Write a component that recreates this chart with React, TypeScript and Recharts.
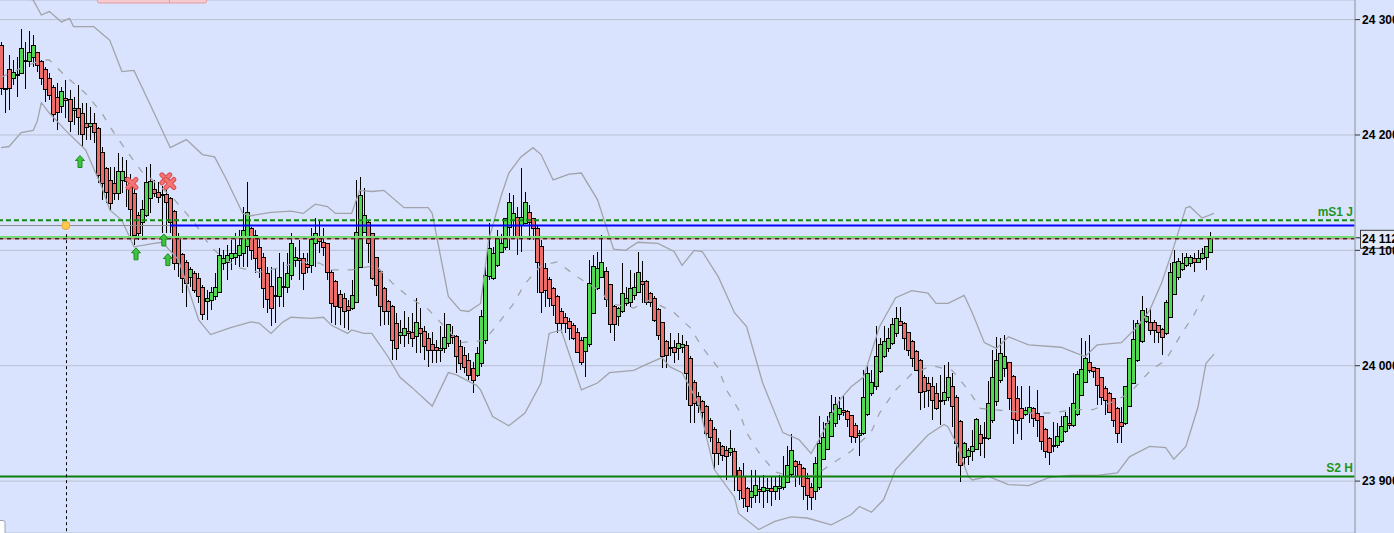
import React from 'react';
import {
  ComposedChart,
  Bar,
  Line,
  XAxis,
  YAxis,
  CartesianGrid,
  ReferenceLine,
  ReferenceDot,
  Customized,
} from 'recharts';

// ---- candles: [open, high, low, close] (index points) ----
const candles: number[][] = [
  [24278,24281,24235,24241],[24241,24241,24219,24240],[24257,24269,24222,24241],[24249,24265,24243,24255],
  [24252,24268,24233,24253],[24254,24292,24254,24275],[24265,24281,24240,24264],[24264,24290,24259,24272],
  [24268,24287,24259,24278],[24272,24272,24255,24261],[24264,24265,24243,24249],[24257,24259,24229,24240],
  [24249,24254,24230,24235],[24242,24243,24211,24218],[24233,24245,24204,24220],[24225,24242,24219,24238],
  [24232,24248,24215,24230],[24231,24239,24203,24212],[24222,24233,24209,24223],[24223,24243,24200,24216],
  [24219,24228,24190,24201],[24210,24228,24196,24207],[24208,24224,24196,24210],[24210,24219,24193,24203],
  [24206,24207,24158,24165],[24185,24190,24144,24158],[24171,24172,24141,24151],[24161,24172,24135,24141],
  [24158,24172,24144,24150],[24150,24184,24144,24169],[24161,24181,24150,24169],[24164,24178,24138,24160],
  [24159,24166,24109,24136],[24150,24155,24105,24113],[24131,24133,24109,24115],[24125,24144,24109,24136],
  [24131,24172,24129,24159],[24145,24175,24132,24160],[24153,24161,24146,24150],[24151,24159,24141,24146],
  [24149,24156,24115,24148],[24149,24155,24115,24142],[24145,24146,24115,24125],[24134,24135,24083,24089],
  [24112,24115,24077,24089],[24097,24098,24063,24076],[24090,24092,24051,24072],[24077,24086,24068,24084],
  [24080,24082,24063,24066],[24076,24080,24054,24060],[24068,24070,24040,24045],[24056,24066,24040,24059],
  [24057,24068,24048,24064],[24060,24080,24057,24068],[24064,24102,24063,24096],[24089,24100,24083,24093],
  [24090,24105,24074,24096],[24093,24109,24083,24098],[24094,24115,24087,24098],[24096,24118,24086,24105],
  [24098,24138,24086,24118],[24104,24159,24086,24133],[24119,24120,24092,24100],[24113,24118,24080,24093],
  [24103,24112,24076,24085],[24094,24098,24050,24067],[24080,24086,24046,24058],[24069,24086,24034,24050],
  [24060,24085,24037,24061],[24060,24098,24051,24077],[24068,24090,24051,24069],[24068,24098,24063,24080],
  [24079,24115,24074,24106],[24092,24103,24086,24094],[24093,24109,24074,24092],[24093,24098,24066,24080],
  [24088,24098,24080,24086],[24087,24119,24080,24110],[24106,24128,24086,24115],[24112,24126,24098,24108],
  [24107,24119,24095,24103],[24106,24106,24074,24081],[24081,24083,24037,24054],[24073,24074,24035,24052],
  [24062,24066,24035,24051],[24059,24063,24033,24047],[24052,24057,24031,24048],[24050,24074,24048,24061],
  [24055,24161,24054,24116],[24086,24164,24085,24148],[24116,24154,24116,24131],[24125,24126,24089,24106],
  [24115,24115,24074,24076],[24094,24094,24060,24070],[24082,24083,24034,24052],[24067,24068,24035,24047],
  [24056,24057,24035,24047],[24052,24053,24005,24022],[24037,24046,24005,24015],[24027,24040,24019,24029],
  [24027,24047,24016,24033],[24030,24042,24019,24028],[24029,24046,24016,24024],[24026,24059,24011,24038],
  [24033,24050,24011,24028],[24030,24034,24005,24017],[24024,24028,23999,24014],[24019,24029,24002,24014],
  [24016,24022,24002,24014],[24014,24034,24003,24015],[24015,24046,24011,24025],[24020,24036,24016,24036],
  [24027,24034,24019,24025],[24026,24027,23994,24008],[24017,24022,23996,24002],[24009,24016,23994,23999],
  [24005,24011,23988,23992],[23998,24003,23976,23988],[23992,24016,23990,24011],[24002,24048,23999,24043],
  [24022,24086,24019,24079],[24078,24124,24074,24102],[24076,24103,24074,24098],[24087,24118,24086,24112],
  [24099,24114,24099,24106],[24103,24128,24100,24128],[24120,24150,24100,24142],[24126,24148,24111,24132],
  [24129,24138,24096,24112],[24122,24171,24099,24129],[24124,24151,24124,24142],[24133,24139,24109,24125],
  [24128,24128,24109,24119],[24119,24121,24063,24090],[24104,24109,24046,24064],[24085,24089,24051,24066],
  [24075,24077,24051,24059],[24067,24068,24043,24053],[24060,24061,24028,24037],[24047,24050,24028,24037],
  [24042,24046,24028,24037],[24039,24041,24022,24033],[24035,24037,24022,24024],[24029,24033,24011,24012],
  [24022,24025,24001,24003],[24013,24025,23990,24025],[24019,24092,24016,24072],[24046,24096,24046,24086],
  [24067,24099,24066,24085],[24077,24113,24076,24090],[24082,24086,24051,24058],[24071,24071,24028,24036],
  [24052,24053,24021,24036],[24043,24051,24034,24050],[24047,24089,24046,24063],[24054,24068,24052,24059],
  [24055,24083,24051,24067],[24061,24080,24057,24068],[24064,24099,24063,24081],[24073,24091,24054,24071],
  [24073,24074,24053,24055],[24063,24064,24051,24055],[24059,24060,24038,24040],[24049,24050,24022,24027],
  [24038,24038,23998,24008],[24021,24022,23998,24009],[24016,24028,24008,24015],[24016,24022,24002,24012],
  [24015,24028,24005,24020],[24016,24027,24011,24019],[24018,24021,23970,23994],[24007,24008,23950,23966],
  [23986,23988,23950,23968],[23974,23977,23959,23966],[23969,23970,23951,23960],[23965,23966,23938,23942],
  [23953,23955,23934,23938],[23945,23947,23910,23924],[23934,23937,23914,23924],[23930,23931,23917,23923],
  [23927,23930,23901,23922],[23925,23944,23922,23929],[23926,23929,23891,23904],[23910,23912,23884,23892],
  [23904,23916,23877,23885],[23894,23895,23873,23878],[23886,23910,23877,23891],[23888,23910,23881,23897],
  [23893,23904,23881,23891],[23891,23905,23877,23895],[23892,23903,23881,23894],[23894,23904,23878,23891],
  [23891,23904,23884,23896],[23894,23905,23884,23896],[23895,23922,23892,23904],[23899,23930,23898,23914],
  [23906,23941,23904,23927],[23917,23918,23895,23913],[23915,23917,23897,23904],[23911,23912,23884,23896],
  [23903,23907,23875,23888],[23895,23898,23875,23886],[23891,23921,23884,23916],[23895,23956,23892,23933],
  [23919,23951,23918,23938],[23928,23956,23927,23950],[23939,23975,23938,23960],[23950,23973,23947,23967],
  [23958,23973,23953,23963],[23962,23975,23956,23960],[23961,23962,23947,23954],[23957,23957,23933,23939],
  [23949,23950,23933,23938],[23940,23944,23922,23942],[23942,23996,23940,23973],[23958,24000,23956,23994],
  [23976,23996,23974,23986],[23982,24034,23979,24008],[23995,24024,23994,24019],[24008,24034,24007,24021],
  [24015,24033,24012,24024],[24020,24041,24018,24036],[24028,24051,24025,24041],[24039,24051,24034,24035],
  [24037,24038,24014,24024],[24029,24029,24008,24014],[24021,24022,23999,24007],[24013,24014,23995,23996],
  [24005,24006,23962,23977],[23990,23992,23963,23978],[23985,23990,23964,23979],[23982,23990,23953,23970],
  [23976,23985,23962,23963],[23969,23992,23949,23970],[23970,24001,23966,23977],[23973,24003,23969,23990],
  [23982,23994,23947,23965],[23973,23975,23916,23933],[23952,23953,23899,23914],[23921,23934,23912,23933],
  [23922,23929,23914,23927],[23926,23944,23917,23930],[23928,23955,23927,23954],[23941,23949,23922,23933],
  [23937,23951,23920,23938],[23937,23987,23936,23968],[23953,24014,23950,23990],[23969,24025,23965,24005],
  [23988,24024,23985,24011],[23998,24027,23990,24008],[24003,24003,23962,23972],[23991,23992,23932,23954],
  [23972,23982,23941,23953],[23963,23982,23936,23955],[23958,23964,23956,23962],[23960,23982,23950,23964],
  [23963,23964,23947,23955],[23959,23979,23938,23953],[23956,23956,23927,23935],[23945,23946,23920,23926],
  [23937,23938,23914,23925],[23931,23951,23925,23930],[23931,23950,23929,23939],[23935,23956,23933,23948],
  [23943,23960,23942,23956],[23950,23964,23945,23949],[23949,23994,23947,23968],[23958,23995,23956,23993],
  [23975,24024,23975,23997],[23986,24021,23985,24007],[24003,24027,23994,23996],[23999,23999,23989,23995],
  [23998,23998,23966,23983],[23990,23990,23966,23973],[23981,23982,23957,23970],[23976,23977,23959,23960],
  [23972,23972,23947,23953],[23963,23964,23933,23942],[23951,23964,23933,23948],[23950,23982,23949,23982],
  [23965,24007,23964,24007],[23985,24040,23985,24023],[24005,24040,24003,24037],[24021,24060,24020,24048],
  [24039,24050,24037,24043],[24038,24050,24027,24031],[24038,24040,24020,24031],[24035,24035,24020,24029],
  [24032,24033,24009,24025],[24028,24057,24027,24055],[24042,24089,24041,24081],[24062,24100,24061,24090],
  [24077,24093,24074,24091],[24084,24098,24082,24089],[24087,24098,24086,24094],[24089,24096,24086,24094],
  [24093,24098,24081,24090],[24090,24100,24089,24093],[24093,24102,24092,24098],[24094,24104,24083,24104],
  [24099,24116,24099,24112],
];

// ---- Bollinger bands, read at sample candle indices: [index, value] ----
const upperBand: number[][] = [
  [0,24324],[8,24317],[10,24304],[12,24307],[15,24298],[17,24301],[18,24294],[23,24294],[25,24288],[27,24282],
  [30,24255],[33,24256],[38,24219],[42,24189],[46,24196],[50,24183],[53,24181],[56,24161],[60,24132],[62,24130],
  [67,24133],[72,24134],[75,24132],[78,24140],[81,24138],[83,24132],[87,24132],[89,24152],[92,24151],[95,24152],
  [100,24137],[106,24137],[107,24132],[111,24060],[114,24048],[116,24047],[119,24054],[121,24109],[124,24146],
  [126,24167],[129,24181],[132,24189],[134,24183],[137,24161],[141,24166],[144,24167],[148,24144],[152,24101],
  [155,24100],[158,24107],[163,24106],[167,24099],[169,24087],[172,24100],[174,24099],[178,24077],[182,24046],
  [185,24034],[189,23985],[194,23942],[198,23936],[201,23924],[203,23936],[208,23970],[211,23982],[214,23990],
  [218,24034],[222,24059],[226,24065],[230,24063],[232,24054],[235,24054],[239,24061],[241,24046],[244,24020],
  [247,24015],[250,24025],[255,24018],[263,24016],[266,24012],[269,24008],[272,24018],[278,24020],[282,24034],
  [285,24048],[288,24072],[291,24103],[294,24137],[295,24138],[298,24128],[301,24132],
];
const middleBand: number[][] = [
  [0,24250],[5,24258],[10,24265],[12,24265],[16,24251],[21,24236],[25,24219],[28,24202],[31,24187],[35,24168],
  [39,24157],[43,24144],[48,24124],[52,24103],[55,24094],[59,24085],[64,24081],[69,24085],[74,24090],[79,24089],
  [82,24083],[87,24083],[93,24087],[97,24072],[101,24060],[106,24049],[110,24034],[114,24020],[120,24022],
  [123,24035],[127,24053],[130,24071],[134,24087],[138,24090],[143,24077],[149,24064],[151,24054],[157,24050],
  [161,24057],[167,24046],[171,24033],[174,24016],[178,23998],[180,23979],[183,23962],[185,23942],[188,23925],
  [192,23908],[197,23903],[202,23905],[207,23917],[211,23926],[216,23943],[218,23959],[222,23979],[226,23993],
  [231,24000],[236,23996],[240,23979],[243,23963],[249,23961],[255,23959],[261,23959],[266,23962],[271,23962],
  [276,23969],[280,23976],[285,23995],[289,24005],[293,24028],[296,24044],[299,24064],
];
const lowerBand: number[][] = [
  [0,24189],[2,24190],[5,24202],[8,24204],[9,24212],[10,24228],[12,24219],[16,24204],[21,24187],[25,24155],
  [27,24135],[30,24126],[33,24103],[38,24106],[40,24107],[44,24092],[46,24072],[49,24040],[52,24027],[57,24033],
  [62,24038],[64,24037],[67,24028],[70,24038],[72,24042],[77,24041],[80,24042],[82,24035],[86,24028],[87,24031],
  [90,24028],[92,24028],[96,24008],[99,23990],[102,23981],[107,23965],[111,23994],[113,23992],[118,23983],
  [119,23979],[122,23956],[126,23948],[130,23959],[134,23985],[136,24028],[139,24031],[144,23979],[148,23985],
  [151,23994],[157,23996],[160,24001],[164,24007],[166,23999],[169,23994],[173,23968],[177,23910],[182,23886],
  [183,23872],[188,23858],[192,23865],[196,23869],[200,23868],[206,23862],[211,23871],[213,23878],[216,23873],
  [219,23884],[222,23910],[226,23925],[230,23940],[234,23949],[235,23947],[237,23933],[240,23904],[241,23901],
  [245,23904],[250,23897],[255,23896],[260,23903],[265,23905],[272,23905],[277,23907],[280,23921],[285,23930],
  [289,23929],[291,23919],[294,23930],[297,23964],[299,24002],[301,24010],
];

// ---- levels and signals ----
const yTicks = [23900, 24000, 24100, 24200, 24300];
const levelMS1J = 24126;
const levelBlue = 24121.5;
const blueStartIndex = 41.9;
const levelLastGreen = 24111.5;
const levelLast = 24110;
const levelS2H = 23904;
const markerIndex = 16.1;
const markerLineTop = 24114;
const buyArrows: number[][] = [[19.6, 24177], [33.5, 24097], [40.4, 24109], [41.4, 24092]];
const sellCrosses: number[][] = [[32.5, 24158], [40.9, 24162], [41.9, 24158]];

const X_DOMAIN: [number, number] = [-0.25, 335.97];
const Y_DOMAIN: [number, number] = [23855, 24317];

const BG = '#dae3fd';
const GRID = '#b7c0d3';
const GREEN = '#52d852';
const RED = '#ec6d6a';
const BAND = '#a2a3aa';
const FONT = 'Arial, "Liberation Sans", sans-serif';

const fmt = (v: number) => `${Math.floor(v / 1000)} ${String(Math.round(v) % 1000).padStart(3, '0')}`;

const CandleShape = (props: any) => {
  const { x, y, width, height, payload } = props;
  if (x == null || y == null || !payload) return null;
  const { o, h, l, c } = payload;
  const top = Math.min(y, y + height);
  const hgt = Math.abs(height);
  const ppu = h > l ? hgt / (h - l) : 0;
  const cx = Math.round(x + width / 2);
  const wTop = Math.round(top);
  const wBot = Math.round(top + hgt);
  let bTop = Math.round(top + (h - Math.max(o, c)) * ppu);
  let bBot = Math.round(top + (h - Math.min(o, c)) * ppu);
  if (bBot - bTop < 1) bBot = bTop + 1;
  const up = c >= o;
  return (
    <g>
      <line x1={cx + 0.5} x2={cx + 0.5} y1={wTop} y2={wBot} stroke="#000" strokeWidth={1} />
      <rect
        x={cx - 1.5}
        y={bTop + 0.5}
        width={4}
        height={bBot - bTop}
        fill={up ? GREEN : RED}
        stroke="#000"
        strokeWidth={1}
      />
    </g>
  );
};

const AxisTick = (props: any) => {
  const { x, y, payload } = props;
  return (
    <text x={x} y={y} dy="0.355em" textAnchor="start" fontFamily={FONT} fontWeight="bold" fontSize={12} fill="#000">
      {fmt(payload.value)}
    </text>
  );
};

const RightLabel = (props: any) => {
  const { viewBox, text, color } = props;
  if (!viewBox) return null;
  const { x, y, width } = viewBox;
  return (
    <text x={x + width - 2} y={y - 4} textAnchor="end" fontFamily={FONT} fontWeight="bold" fontSize={12} fill={color}>
      {text}
    </text>
  );
};

const PriceTag = (props: any) => {
  const { viewBox, text } = props;
  if (!viewBox) return null;
  const { x, y, width } = viewBox;
  const ax = x + width;
  return (
    <g>
      <line x1={ax} x2={ax + 5} y1={y - 1} y2={y - 1} stroke="#222" strokeWidth={1} />
      <rect x={ax + 5.5} y={y - 8.5} width={48} height={18} fill="#e3eaf6" stroke="#3a3a3a" strokeWidth={1} />
      <text x={ax + 7} y={y + 4} fontFamily={FONT} fontWeight="bold" fontSize={12} fill="#000">
        {text}
      </text>
    </g>
  );
};

const UpArrow = (props: any) => {
  const { cx, cy } = props;
  if (cx == null || cy == null) return null;
  const d = `M${cx},${cy - 6} L${cx + 4.5},${cy - 1} L${cx + 2},${cy - 1} L${cx + 2},${cy + 6} L${cx - 2},${cy + 6} L${cx - 2},${cy - 1} L${cx - 4.5},${cy - 1} Z`;
  return <path d={d} fill="#3ec43e" stroke="#1d8a1d" strokeWidth={1} />;
};

const CrossMark = (props: any) => {
  const { cx, cy } = props;
  if (cx == null || cy == null) return null;
  const s = 4;
  return (
    <g>
      <line x1={cx - s} y1={cy - s} x2={cx + s} y2={cy + s} stroke="#d94c4c" strokeWidth={5} strokeLinecap="round" />
      <line x1={cx - s} y1={cy + s} x2={cx + s} y2={cy - s} stroke="#d94c4c" strokeWidth={5} strokeLinecap="round" />
      <line x1={cx - s} y1={cy - s} x2={cx + s} y2={cy + s} stroke="#f27474" strokeWidth={3} strokeLinecap="round" />
      <line x1={cx - s} y1={cy + s} x2={cx + s} y2={cy - s} stroke="#f27474" strokeWidth={3} strokeLinecap="round" />
    </g>
  );
};

const Decor = () => (
  <g>
    <rect x={97.5} y={-5} width={109} height={8} rx={2} fill="#f6c9cf" stroke="#e39aa4" strokeWidth={1} />
    <line x1={169.5} x2={169.5} y1={-1} y2={3} stroke="#e39aa4" strokeWidth={1} />
    <rect x={-3} y={520.5} width={8} height={14} rx={2} fill="#ffffff" stroke="#9aa3b5" strokeWidth={1} />
  </g>
);

const toPoints = (arr: number[][]) => arr.map(([i, v]) => ({ i, v }));

export default function App() {
  const data = candles.map((k, i) => ({ i, o: k[0], h: k[1], l: k[2], c: k[3], range: [k[2], k[1]] }));
  const lastClose = candles[candles.length - 1][3];
  return (
    <div style={{ position: 'fixed', left: 0, top: 0, width: 1394, height: 533, background: BG, overflow: 'hidden' }}>
      <ComposedChart width={1394} height={533} data={data} margin={{ top: 0, right: 0, bottom: 0, left: 0 }}>
        <CartesianGrid horizontal vertical={false} stroke={GRID} />
        <XAxis type="number" dataKey="i" domain={X_DOMAIN} allowDataOverflow hide />
        <YAxis
          orientation="right"
          type="number"
          domain={Y_DOMAIN}
          allowDataOverflow
          ticks={yTicks}
          interval={0}
          width={39}
          tickSize={5}
          tickMargin={2}
          tick={<AxisTick />}
          tickLine={{ stroke: '#333' }}
          axisLine={{ stroke: '#a6abb6', strokeWidth: 1.5 }}
        />
        <Line data={toPoints(upperBand)} dataKey="v" type="linear" dot={false} activeDot={false} stroke={BAND} strokeWidth={1.3} isAnimationActive={false} />
        <Line data={toPoints(lowerBand)} dataKey="v" type="linear" dot={false} activeDot={false} stroke={BAND} strokeWidth={1.3} isAnimationActive={false} />
        <Line data={toPoints(middleBand)} dataKey="v" type="linear" dot={false} activeDot={false} stroke={BAND} strokeWidth={1.3} strokeDasharray="7 9" isAnimationActive={false} />
        <Bar dataKey="range" barSize={4} shape={<CandleShape />} isAnimationActive={false} />
        <ReferenceLine
          y={levelMS1J}
          stroke="#138a13"
          strokeWidth={2}
          strokeDasharray="5 3"
          label={<RightLabel text="mS1 J" color="#1f951f" />}
        />
        <ReferenceLine
          segment={[{ x: X_DOMAIN[0], y: levelBlue }, { x: blueStartIndex, y: levelBlue }]}
          stroke="#8c8c8c"
          strokeWidth={1}
        />
        <ReferenceLine
          segment={[{ x: blueStartIndex, y: levelBlue }, { x: X_DOMAIN[1], y: levelBlue }]}
          stroke="#0000ff"
          strokeWidth={2}
        />
        <ReferenceLine y={levelLastGreen} stroke="#74dc74" strokeWidth={2} />
        <ReferenceLine y={levelLast} stroke="#d35a5a" strokeWidth={1} />
        <ReferenceLine
          y={levelLast}
          stroke="#000"
          strokeWidth={1}
          strokeDasharray="4 4"
          label={<PriceTag text={fmt(lastClose)} />}
        />
        <ReferenceLine y={levelS2H} stroke="#0b800b" strokeWidth={2} label={<RightLabel text="S2 H" color="#1f951f" />} />
        <ReferenceLine
          segment={[{ x: markerIndex + 0.15, y: markerLineTop }, { x: markerIndex + 0.15, y: Y_DOMAIN[0] }]}
          stroke="#000"
          strokeWidth={1}
          strokeDasharray="3 3"
        />
        <ReferenceDot x={markerIndex} y={levelBlue} r={4} fill="#ffc94d" stroke="#e6a33a" strokeWidth={1} />
        {buyArrows.map(([i, v], k) => (
          <ReferenceDot key={`b${k}`} x={i} y={v} r={6} shape={<UpArrow />} />
        ))}
        {sellCrosses.map(([i, v], k) => (
          <ReferenceDot key={`s${k}`} x={i} y={v} r={6} shape={<CrossMark />} />
        ))}
        <Customized component={Decor} />
      </ComposedChart>
    </div>
  );
}
